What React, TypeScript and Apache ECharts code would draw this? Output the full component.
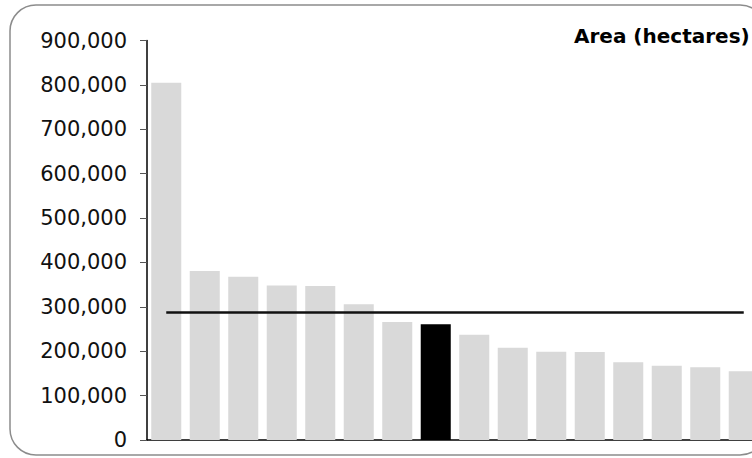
import React, { useEffect, useRef } from "react";
import * as echarts from "echarts";

const categories = ["A", "B", "C", "D", "E", "F", "G", "H", "I", "J", "K", "L", "M", "N", "O", "P"];
const areaValues = [805000, 381000, 368000, 348000, 347000, 306000, 266000, 261000, 237000, 208000, 199000, 198000, 175000, 167000, 164000, 155000];
const highlightIndex = 7;
const averageValue = 288000;
const yTicks = { min: 0, max: 900000, interval: 100000 };
const titleText = "Area (hectares)";

function fmt(v: number): string {
  return String(v).replace(/\B(?=(\d{3})+(?!\d))/g, ",");
}

export default function App() {
  const ref = useRef<HTMLDivElement>(null);
  useEffect(() => {
    if (!ref.current) return;
    const chart = echarts.init(ref.current, null, { renderer: "svg" });
    chart.setOption({
      animation: false,
      backgroundColor: "#ffffff",
      textStyle: { fontFamily: "DejaVu Sans" },
      graphic: [
        {
          type: "rect",
          shape: { x: 10, y: 5, width: 756, height: 450, r: 26 },
          style: { fill: "none", stroke: "#8c8c8c", lineWidth: 1.5 },
          silent: true,
          z: -1,
        },
        {
          type: "text",
          left: 574,
          top: 26,
          style: {
            text: titleText,
            font: "bold 20px 'DejaVu Sans'",
            fill: "#000000",
          },
        },
      ],
      grid: { left: 147, top: 40.5, bottom: 18, right: 17, containLabel: false },
      xAxis: {
        type: "category",
        data: categories,
        axisLine: { show: true, lineStyle: { color: "#000000", width: 1.5 } },
        axisTick: { show: false },
        axisLabel: { show: false },
        splitLine: { show: false },
      },
      yAxis: {
        type: "value",
        min: yTicks.min,
        max: yTicks.max,
        interval: yTicks.interval,
        axisLine: { show: true, lineStyle: { color: "#000000", width: 1.5 } },
        axisTick: { show: true, length: 7, lineStyle: { color: "#555555", width: 1 } },
        axisLabel: {
          margin: 20,
          color: "#111111",
          fontSize: 21,
          fontFamily: "DejaVu Sans",
          formatter: (v: number) => fmt(v),
        },
        splitLine: { show: false },
      },
      series: [
        {
          type: "bar",
          data: areaValues.map((v, i) => ({
            value: v,
            itemStyle: { color: i === highlightIndex ? "#000000" : "#d9d9d9" },
          })),
          barCategoryGap: "22%",
          markLine: {
            symbol: "none",
            silent: true,
            label: { show: false },
            lineStyle: { color: "#111111", width: 2.5, type: "solid" },
            data: [
              [
                { xAxis: 0, yAxis: averageValue },
                { xAxis: categories.length - 1, yAxis: averageValue },
              ],
            ],
          },
        },
      ],
    });
    return () => chart.dispose();
  }, []);
  return (
    <div style={{ position: "fixed", left: 0, top: 0, width: 752, height: 458, overflow: "hidden" }}>
      <div ref={ref} style={{ width: 780, height: 458 }} />
    </div>
  );
}
